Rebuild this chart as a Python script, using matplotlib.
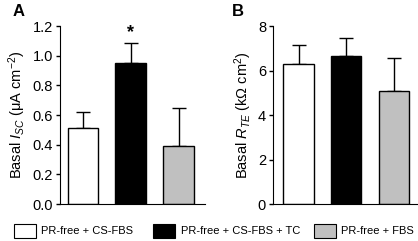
import numpy as np
import matplotlib.pyplot as plt
from matplotlib.patches import Rectangle

plt.rcParams['font.family'] = ['Liberation Sans', 'DejaVu Sans']
plt.rcParams['mathtext.fontset'] = 'custom'
plt.rcParams['mathtext.rm'] = 'Liberation Sans'
plt.rcParams['mathtext.it'] = 'Liberation Sans:italic'

groups = ['PR-free + CS-FBS', 'PR-free + CS-FBS + TC', 'PR-free + FBS']
colors = ['white', 'black', '#c0c0c0']

isc_mean = [0.51, 0.95, 0.39]
isc_err = [0.11, 0.135, 0.26]
rte_mean = [6.3, 6.65, 5.1]
rte_err = [0.85, 0.8, 1.45]

W, H = 418, 241
fig = plt.figure(figsize=(W / 100, H / 100), dpi=100)
axA = fig.add_axes([0.1435, 0.1535, 0.3465, 0.7385])
axB = fig.add_axes([0.653, 0.1535, 0.345, 0.7385])

x = np.arange(3)

def draw(ax, means, errs, ylim, ticks, ticklabels, ylabel, xlim):
    ax.bar(x, means, width=0.64, color=colors, edgecolor='black', linewidth=1.0, zorder=2)
    ax.errorbar(x, means, yerr=[np.zeros(3), errs], fmt='none', ecolor='black',
                elinewidth=1.0, capsize=5, capthick=1.0, zorder=1)
    ax.set_ylim(*ylim)
    ax.set_xlim(*xlim)
    ax.set_yticks(ticks)
    ax.set_yticklabels(ticklabels, fontsize=10.5)
    ax.set_xticks([])
    ax.spines['top'].set_visible(False)
    ax.spines['right'].set_visible(False)
    ax.tick_params(axis='y', direction='out', length=3, width=1, pad=2)
    ax.set_ylabel(ylabel, fontsize=10.5, labelpad=3)

draw(axA, isc_mean, isc_err, (0, 1.2), np.arange(0, 1.21, 0.2),
     ['%.1f' % v for v in np.arange(0, 1.21, 0.2)],
     r'Basal $I_{SC}$ ($\mathrm{\mu}$A cm$^{-2}$)', (-0.48, 2.55))
draw(axB, rte_mean, rte_err, (0, 8), [0, 2, 4, 6, 8], ['0', '2', '4', '6', '8'],
     r'Basal $R_{TE}$ (k$\Omega$ cm$^{2}$)', (-0.54, 2.49))

axA.text(1, isc_mean[1] + isc_err[1] + 0.015, '*', ha='center', va='bottom',
         fontsize=13, fontweight='bold')

fig.text(0.03, 0.985, 'A', fontsize=12, fontweight='bold', va='top')
fig.text(0.555, 0.985, 'B', fontsize=12, fontweight='bold', va='top')

# legend row along the bottom, placed in pixels
patch_x = [14, 153, 314]
text_x = [41, 181, 341]
for px, tx, c, g in zip(patch_x, text_x, colors, groups):
    fig.add_artist(Rectangle((px / W, 3 / H), 22 / W, 14 / H, transform=fig.transFigure,
                             facecolor=c, edgecolor='black', linewidth=0.8))
    fig.text(tx / W, 10 / H, g, fontsize=8, va='center', ha='left')

fig.savefig('out.png', dpi=100)
